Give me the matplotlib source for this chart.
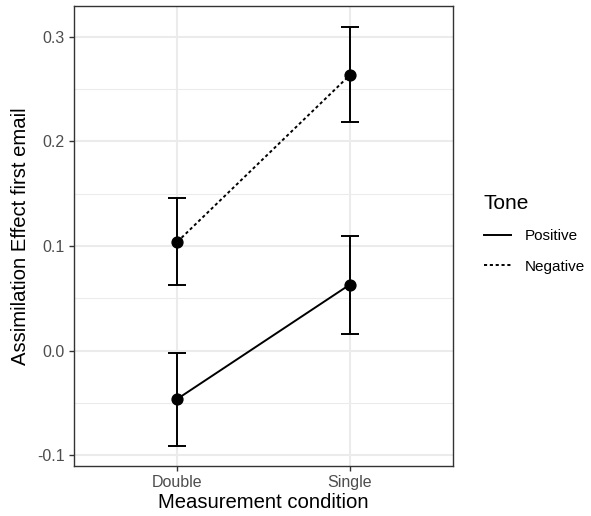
import numpy as np
import matplotlib
matplotlib.use("Agg")
import matplotlib.pyplot as plt
from matplotlib.lines import Line2D

plt.rcParams["font.family"] = ["Liberation Sans", "DejaVu Sans"]
plt.rcParams["axes.unicode_minus"] = False

# ─── Data ─────────────────────────────────────────────────────────────────────
conditions = ["Double", "Single"]
tones = ["Positive", "Negative"]
positive_mean = [-0.046, 0.063]
positive_lo = [-0.091, 0.016]
positive_hi = [-0.002, 0.110]
negative_mean = [0.104, 0.263]
negative_lo = [0.063, 0.218]
negative_hi = [0.146, 0.309]

y_ticks = [-0.1, 0.0, 0.1, 0.2, 0.3]

# ─── Plot ─────────────────────────────────────────────────────────────────────
fig = plt.figure(figsize=(5.91, 5.16), dpi=100)
ax = fig.add_axes([0.1252, 0.0969, 0.6413, 0.8915])

x = np.arange(1, len(conditions) + 1)
styles = {"Positive": "-", "Negative": (0, (1.6, 1.4))}
series = {
    "Positive": (positive_mean, positive_lo, positive_hi),
    "Negative": (negative_mean, negative_lo, negative_hi),
}
LW = 1.4

for tone in tones:
    m, lo, hi = (np.array(v) for v in series[tone])
    ax.errorbar(x, m, yerr=[m - lo, hi - m], fmt="none", ecolor="black",
                elinewidth=LW, capsize=6.3, capthick=LW, zorder=3)
    ax.plot(x, m, color="black", linestyle=styles[tone], linewidth=LW, zorder=3)
    ax.plot(x, m, "o", color="black", markersize=7.8, zorder=4)

ax.set_xlim(0.4, 2.6)
ax.set_ylim(-0.1101, 0.3292)
ax.set_xticks(x)
ax.set_xticklabels(conditions)
ax.set_yticks(y_ticks)
ax.set_yticklabels([f"{t:.1f}" for t in y_ticks])
ax.set_yticks(np.arange(-0.05, 0.33, 0.1), minor=True)

ax.grid(True, which="major", color="#EBEBEB", linewidth=1.5, zorder=0)
ax.grid(True, which="minor", axis="y", color="#EBEBEB", linewidth=0.75, zorder=0)
ax.set_axisbelow(True)
ax.tick_params(which="major", length=3.7, width=1.0, color="#333333",
               labelsize=11.5, labelcolor="#4D4D4D", pad=3)
ax.tick_params(which="minor", length=0)
for sp in ax.spines.values():
    sp.set_color("#333333")
    sp.set_linewidth(1.0)

ax.set_xlabel("Measurement condition", fontsize=14.6, labelpad=2)
ax.set_ylabel("Assimilation Effect first email", fontsize=14.6, labelpad=5)

handles = [Line2D([], [], color="black", linestyle=styles[t], linewidth=LW) for t in tones]
leg = fig.legend(handles, tones, loc="upper left", bbox_to_anchor=(0.8086, 0.635),
                 frameon=False, title="Tone", title_fontsize=15, fontsize=11,
                 handlelength=1.77, handletextpad=0.9, labelspacing=1.05,
                 alignment="left", borderaxespad=0)

fig.savefig("out.png", dpi=100)
